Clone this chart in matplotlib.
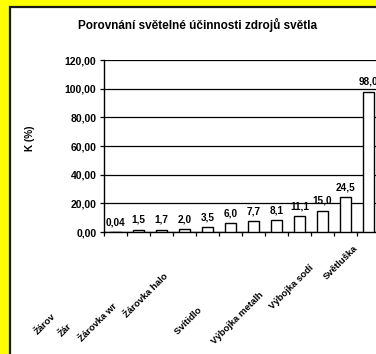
import matplotlib
matplotlib.use("Agg")
import matplotlib.pyplot as plt
from matplotlib.patches import Rectangle

# ---- data ----
values = [0.04, 1.5, 1.7, 2.0, 3.5, 6.0, 7.7, 8.1, 11.1, 15.0, 24.5, 98.0]
shown_labels = ["Žárov", "Žár", "Žárovka wr", "Žárovka halo", "Svítidlo ",
                "Výbojka metalh", "Výbojka sodí", "Světluška"]
yticks = [0, 20, 40, 60, 80, 100, 120]
title = "Porovnání světelné účinnosti zdrojů světla"
ylabel = "K (%)"

# ---- layout ----
W, H = 376, 354
plt.rcParams['font.family'] = ['Liberation Sans', 'DejaVu Sans']
fig = plt.figure(figsize=(W / 100, H / 100), dpi=100)
fig.patch.set_facecolor('#FFFF00')

# white chart panel with dark border (extends past the crop)
panel = Rectangle((10 / W, -0.2), 1.5, (H - 7) / H + 0.2, transform=fig.transFigure,
                  facecolor='white', edgecolor='#1a1a1a', linewidth=1.6, zorder=-10)
fig.patches.append(panel)

left_px, right_px, top_px, bot_px = 104, 380, 60, 232
ax = fig.add_axes([left_px / W, 1 - bot_px / H, (right_px - left_px) / W, (bot_px - top_px) / H])
ax.set_facecolor('none')
ax.set_zorder(5)

n = len(values)
x = list(range(n))
ax.bar(x, values, width=0.48, color='white', edgecolor='black', linewidth=1.0, zorder=3)
ax.set_xlim(-0.5, n - 0.5)
ax.set_ylim(0, 120)

for xi, v in zip(x, values):
    s = (f"{v:.2f}" if v < 0.1 else f"{v:.1f}").replace('.', ',')
    ax.annotate(s, (xi, v), xytext=(0, 3.5), textcoords='offset points',
                ha='center', va='bottom', fontsize=7.2, fontweight='bold', zorder=4,
                annotation_clip=False)

ax.set_yticks(yticks)
ax.set_yticklabels([f"{t:.2f}".replace('.', ',') for t in yticks], fontsize=7.5, fontweight='bold')
ax.yaxis.grid(True, color='black', linewidth=0.9, zorder=1)
ax.set_axisbelow(True)
ax.tick_params(axis='y', length=3, width=0.9, pad=2.5)
ax.set_xticks([i + 0.5 for i in range(-1, n)])
ax.set_xticklabels([])
ax.tick_params(axis='x', length=3, width=0.9, direction='out')
for sp in ['left', 'bottom']:
    ax.spines[sp].set_linewidth(1.0)
ax.spines['top'].set_visible(False)
ax.spines['right'].set_visible(False)

fig.text(30 / W, 1 - 138 / H, ylabel, rotation=90, ha='center', va='center',
         fontsize=7.2, fontweight='bold')

fig.text(198 / W, 1 - 25 / H, title, ha='center', va='center', fontsize=8.5, fontweight='bold')

# rotated category labels (clipped as in the reference), start points in pixels
label_starts = [(38, 335), (62, 337), (82, 342), (127, 318), (178, 335),
                (215, 345), (273, 310), (327, 280)]
for (px, py), lab in zip(label_starts, shown_labels):
    fig.text(px / W, 1 - py / H, lab, rotation=45, rotation_mode='anchor',
             ha='left', va='baseline', fontsize=6.8, fontweight='bold')

fig.savefig('out.png', dpi=100, facecolor=fig.get_facecolor())
